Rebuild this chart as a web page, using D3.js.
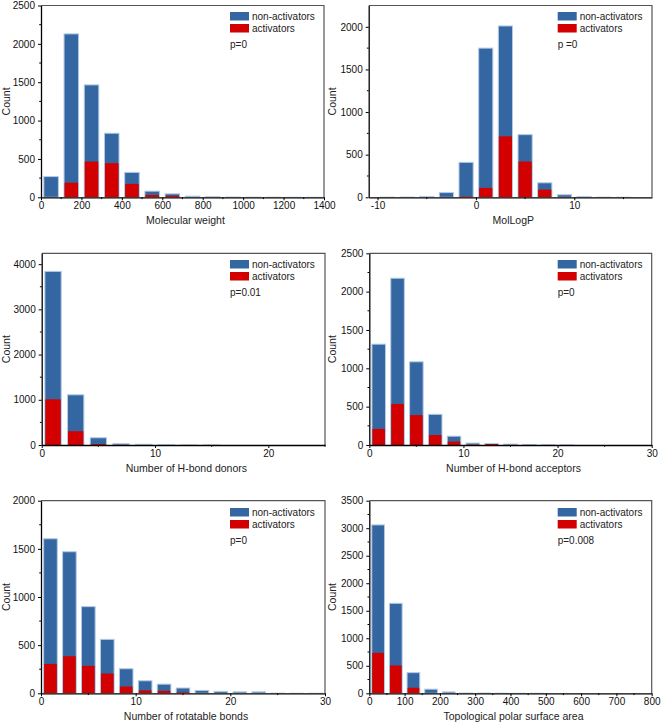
<!DOCTYPE html>
<html><head><meta charset="utf-8">
<script src="https://cdn.jsdelivr.net/npm/d3@7"></script>
<style>body{margin:0;background:#fff;} svg{display:block;} text{font-family:"Liberation Sans",Arial,sans-serif;}</style>
</head><body>
<script>
// ---- data ----
const mwCenters = [50,150,250,350,450,550,650,750,850,950,1050,1150,1250,1350];
const mwNon = [270,2130,1465,835,325,80,45,15,8,4,2,2,1,1];
const mwAct = [0,190,465,445,175,30,20,3,0,0,0,0,0,0];

const logpCenters = [-9,-7,-5,-3,-1,1,3,5,7,9,11,13,15];
const logpNon = [2,3,10,55,410,1750,2010,735,170,30,8,2,1];
const logpAct = [0,0,0,0,10,110,715,420,90,5,0,0,0];

const donCenters = [1,3,5,7,9,11,13,15,17,19,21,23];
const donNon = [3840,1110,160,30,15,3,1,1,0,0,0,0];
const donAct = [1010,305,20,3,0,0,0,0,0,0,0,0];

const accCenters = [1,3,5,7,9,11,13,15,17,19,21,23,25,27,29];
const accNon = [1315,2175,1085,400,115,25,20,12,5,2,1,0,0,0,0];
const accAct = [210,535,390,130,45,5,12,2,0,0,0,0,0,0,0];

const rotCenters = [1,3,5,7,9,11,13,15,17,19,21,23,25,27,29];
const rotNon = [1605,1470,900,560,255,130,95,55,30,20,15,15,2,1,1];
const rotAct = [305,385,285,205,70,30,25,10,0,0,0,0,0,0,0];

const tpsaCenters = [25,75,125,175,225,275,325,375,425,475,525,575,625,675,725,775];
const tpsaNon = [3060,1635,375,75,25,5,5,2,1,1,0,0,0,0,0,0];
const tpsaAct = [735,505,100,5,0,0,0,0,0,0,0,0,0,0,0,0];

const seriesNames = ["non-activators","activators"];
const pLabels = ["p=0","p =0","p=0.01","p=0","p=0","p=0.008"];
const xTitles = ["Molecular weight","MolLogP","Number of H-bond donors","Number of H-bond acceptors","Number of rotatable bonds","Topological polar surface area"];

const panels = [
  {c:mwCenters, non:mwNon, act:mwAct, bw:100, xd:[0,1400], yd:[0,2500], xt:d3.range(0,1401,200), xm:d3.range(100,1400,200), yt:d3.range(0,2501,500), ym:d3.range(250,2500,500),
   box:[41,324,5.5,197.3], legX:230, legY:12, cx:6},
  {c:logpCenters, non:logpNon, act:logpAct, bw:2, xd:[-10.9,17.9], yd:[0,2250], xt:[-10,0,10], xm:[-5,5,15], yt:d3.range(0,2001,500), ym:d3.range(250,2250,500),
   box:[368.7,652,5.5,197.3], legX:557.7, legY:12, cx:332},
  {c:donCenters, non:donNon, act:donAct, bw:2, xd:[0,25], yd:[0,4240], xt:[0,10,20], xm:[5,15,25], yt:d3.range(0,4001,1000), ym:d3.range(500,4240,1000),
   box:[41.7,325,253.3,445], legX:230, legY:260, cx:6},
  {c:accCenters, non:accNon, act:accAct, bw:2, xd:[0,30], yd:[0,2500], xt:[0,10,20,30], xm:[5,15,25], yt:d3.range(0,2501,500), ym:d3.range(250,2500,500),
   box:[369.3,651.7,253.3,445], legX:557.7, legY:260, cx:332},
  {c:rotCenters, non:rotNon, act:rotAct, bw:2, xd:[0,30], yd:[0,2000], xt:[0,10,20,30], xm:[5,15,25], yt:d3.range(0,2001,500), ym:d3.range(250,2000,500),
   box:[41,325,500.7,693.3], legX:230, legY:508, cx:6},
  {c:tpsaCenters, non:tpsaNon, act:tpsaAct, bw:50, xd:[0,800], yd:[0,3500], xt:d3.range(0,801,100), xm:d3.range(50,800,100), yt:d3.range(0,3501,500), ym:d3.range(250,3500,500),
   box:[369.3,651.7,500.7,693.3], legX:557.7, legY:508, cx:332}
];

const BLUE = "#3466a1", BLUE_EDGE = "#b3cbe6", RED = "#d30000";
const fmt = d => String(d);

const svg = d3.select("body").append("svg").attr("width",661).attr("height",724);

panels.forEach((p,i)=>{
  const [x0,x1,y0,y1] = p.box;
  const x = d3.scaleLinear().domain(p.xd).range([x0,x1]);
  const y = d3.scaleLinear().domain(p.yd).range([y1,y0]);
  const g = svg.append("g");
  const clipId = "clip"+i;
  svg.append("clipPath").attr("id",clipId).append("rect").attr("x",x0).attr("y",y0).attr("width",x1-x0).attr("height",y1-y0);
  const bars = g.append("g").attr("clip-path",`url(#${clipId})`);
  const half = p.bw*0.36;
  bars.selectAll("rect.non").data(p.c.map((c,k)=>({c,v:p.non[k]})).filter(d=>d.v>0)).join("rect")
    .attr("class","non")
    .attr("x",d=>x(d.c-half)).attr("width",d=>x(d.c+half)-x(d.c-half))
    .attr("y",d=>y(d.v)).attr("height",d=>y(0)-y(d.v))
    .attr("fill",BLUE).attr("stroke",BLUE_EDGE).attr("stroke-width",1);
  bars.selectAll("rect.act").data(p.c.map((c,k)=>({c,v:p.act[k]})).filter(d=>d.v>0)).join("rect")
    .attr("class","act")
    .attr("x",d=>x(d.c-half)+0.5).attr("width",d=>x(d.c+half)-x(d.c-half)-1)
    .attr("y",d=>y(d.v)).attr("height",d=>y(0)-y(d.v))
    .attr("fill",RED);

  // frame top/right
  g.append("path").attr("d",`M${x0},${y0}H${x1}V${y1}`).attr("fill","none").attr("stroke","#555").attr("stroke-width",1.2);

  // axes
  const xa = g.append("g").attr("transform",`translate(0,${y1})`)
    .call(d3.axisBottom(x).tickValues(p.xt).tickFormat(fmt).tickSize(3).tickPadding(2).tickSizeOuter(0));
  const ya = g.append("g").attr("transform",`translate(${x0},0)`)
    .call(d3.axisLeft(y).tickValues(p.yt).tickFormat(fmt).tickSize(3).tickPadding(3).tickSizeOuter(0));
  [xa,ya].forEach(a=>{
    a.selectAll("text").attr("font-size",10).attr("fill","#111").attr("font-family","Liberation Sans, Arial, sans-serif");
    a.select(".domain").attr("stroke","#000").attr("stroke-width",1.3);
    a.selectAll(".tick line").attr("stroke","#000");
  });
  // minor ticks
  g.append("g").selectAll("line").data(p.xm).join("line")
    .attr("x1",d=>x(d)).attr("x2",d=>x(d)).attr("y1",y1).attr("y2",y1+1.8).attr("stroke","#000");
  g.append("g").selectAll("line").data(p.ym).join("line")
    .attr("x1",x0).attr("x2",x0-1.8).attr("y1",d=>y(d)).attr("y2",d=>y(d)).attr("stroke","#000");

  // titles
  g.append("text").attr("x",(x0+x1)/2+3).attr("y",y1+27).attr("text-anchor","middle")
    .attr("font-size",10.5).attr("fill","#222").text(xTitles[i]);
  g.append("text").attr("transform",`translate(${p.cx+4},${(y0+y1)/2}) rotate(-90)`).attr("text-anchor","middle")
    .attr("font-size",10.5).attr("fill","#222").text("Count");

  // legend
  const L = g.append("g");
  [BLUE,RED].forEach((col,k)=>{
    L.append("rect").attr("x",p.legX).attr("y",p.legY+k*12).attr("width",19).attr("height",8.5).attr("fill",col);
    L.append("text").attr("x",p.legX+22).attr("y",p.legY+k*12+8).attr("font-size",10).attr("fill","#222").text(seriesNames[k]);
  });
  L.append("text").attr("x",p.legX).attr("y",p.legY+36).attr("font-size",10).attr("fill","#222").text(pLabels[i]);
});
</script>
</body></html>
